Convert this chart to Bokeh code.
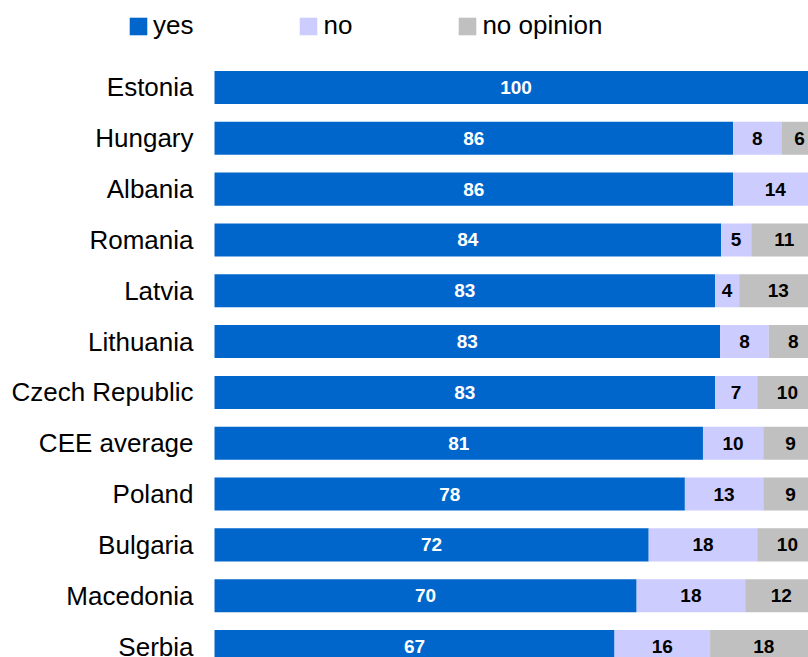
from bokeh.plotting import figure
from bokeh.models import Range1d, Legend, LegendItem, ColumnDataSource
from bokeh.core.properties import value
from bokeh.embed import file_html
from bokeh.resources import INLINE

countries = ["Estonia", "Hungary", "Albania", "Romania", "Latvia", "Lithuania",
             "Czech Republic", "CEE average", "Poland", "Bulgaria", "Macedonia", "Serbia"]
yes = [100, 86, 86, 84, 83, 83, 83, 81, 78, 72, 70, 67]
no = [0, 8, 14, 5, 4, 8, 7, 10, 13, 18, 18, 16]
no_opinion = [0, 6, 0, 11, 13, 8, 10, 9, 9, 10, 12, 18]

series_names = ["yes", "no", "no opinion"]
colors = ["#0066CC", "#CCCCFF", "#C0C0C0"]
text_colors = ["white", "black", "black"]

FONT = "Liberation Sans"

idx = list(range(len(countries)))
totals = [a + b + c for a, b, c in zip(yes, no, no_opinion)]
series = [yes, no, no_opinion]

p = figure(width=808, height=657, output_backend="svg", toolbar_location=None,
           x_range=Range1d(-35.49, 98.5), y_range=Range1d(11.216, -1.711),
           min_border=0)
p.outline_line_color = None
p.xgrid.visible = False
p.ygrid.visible = False
p.xaxis.visible = False
p.yaxis.visible = False

# category labels
p.text(x=[0] * len(countries), y=idx, text=countries, x_offset=-21,
       text_align="right", text_baseline="middle",
       text_font=value(FONT), text_font_size="26px", text_color="black")

left = [0.0] * len(countries)
renderers = []
for name, vals, col, tcol in zip(series_names, series, colors, text_colors):
    pct = [v / t * 100 for v, t in zip(vals, totals)]
    right = [l + q for l, q in zip(left, pct)]
    src = ColumnDataSource(dict(y=idx, left=left, right=right))
    r = p.hbar(y="y", left="left", right="right", height=0.65, source=src,
               fill_color=col, line_color=None)
    renderers.append(r)
    lx, ly, lt = [], [], []
    for i, v in enumerate(vals):
        if v > 0:
            lx.append((left[i] + right[i]) / 2)
            ly.append(i)
            lt.append(str(v))
    p.text(x=lx, y=ly, text=lt, text_align="center", text_baseline="middle",
           text_font=value(FONT), text_font_style="bold", text_font_size="19px",
           text_color=tcol)
    left = right

legend = Legend(items=[LegendItem(label=n, renderers=[r]) for n, r in zip(series_names, renderers)],
                orientation="horizontal", location=(127, 616))
legend.glyph_width = 22
legend.glyph_height = 22
legend.label_standoff = 4
legend.spacing = 104
legend.padding = 0
legend.margin = 0
legend.border_line_color = None
legend.background_fill_alpha = 0
legend.label_text_font = FONT
legend.label_text_font_size = "26px"
legend.label_text_color = "black"
p.add_layout(legend, "center")

open("out.html", "w").write(file_html(p, INLINE))
